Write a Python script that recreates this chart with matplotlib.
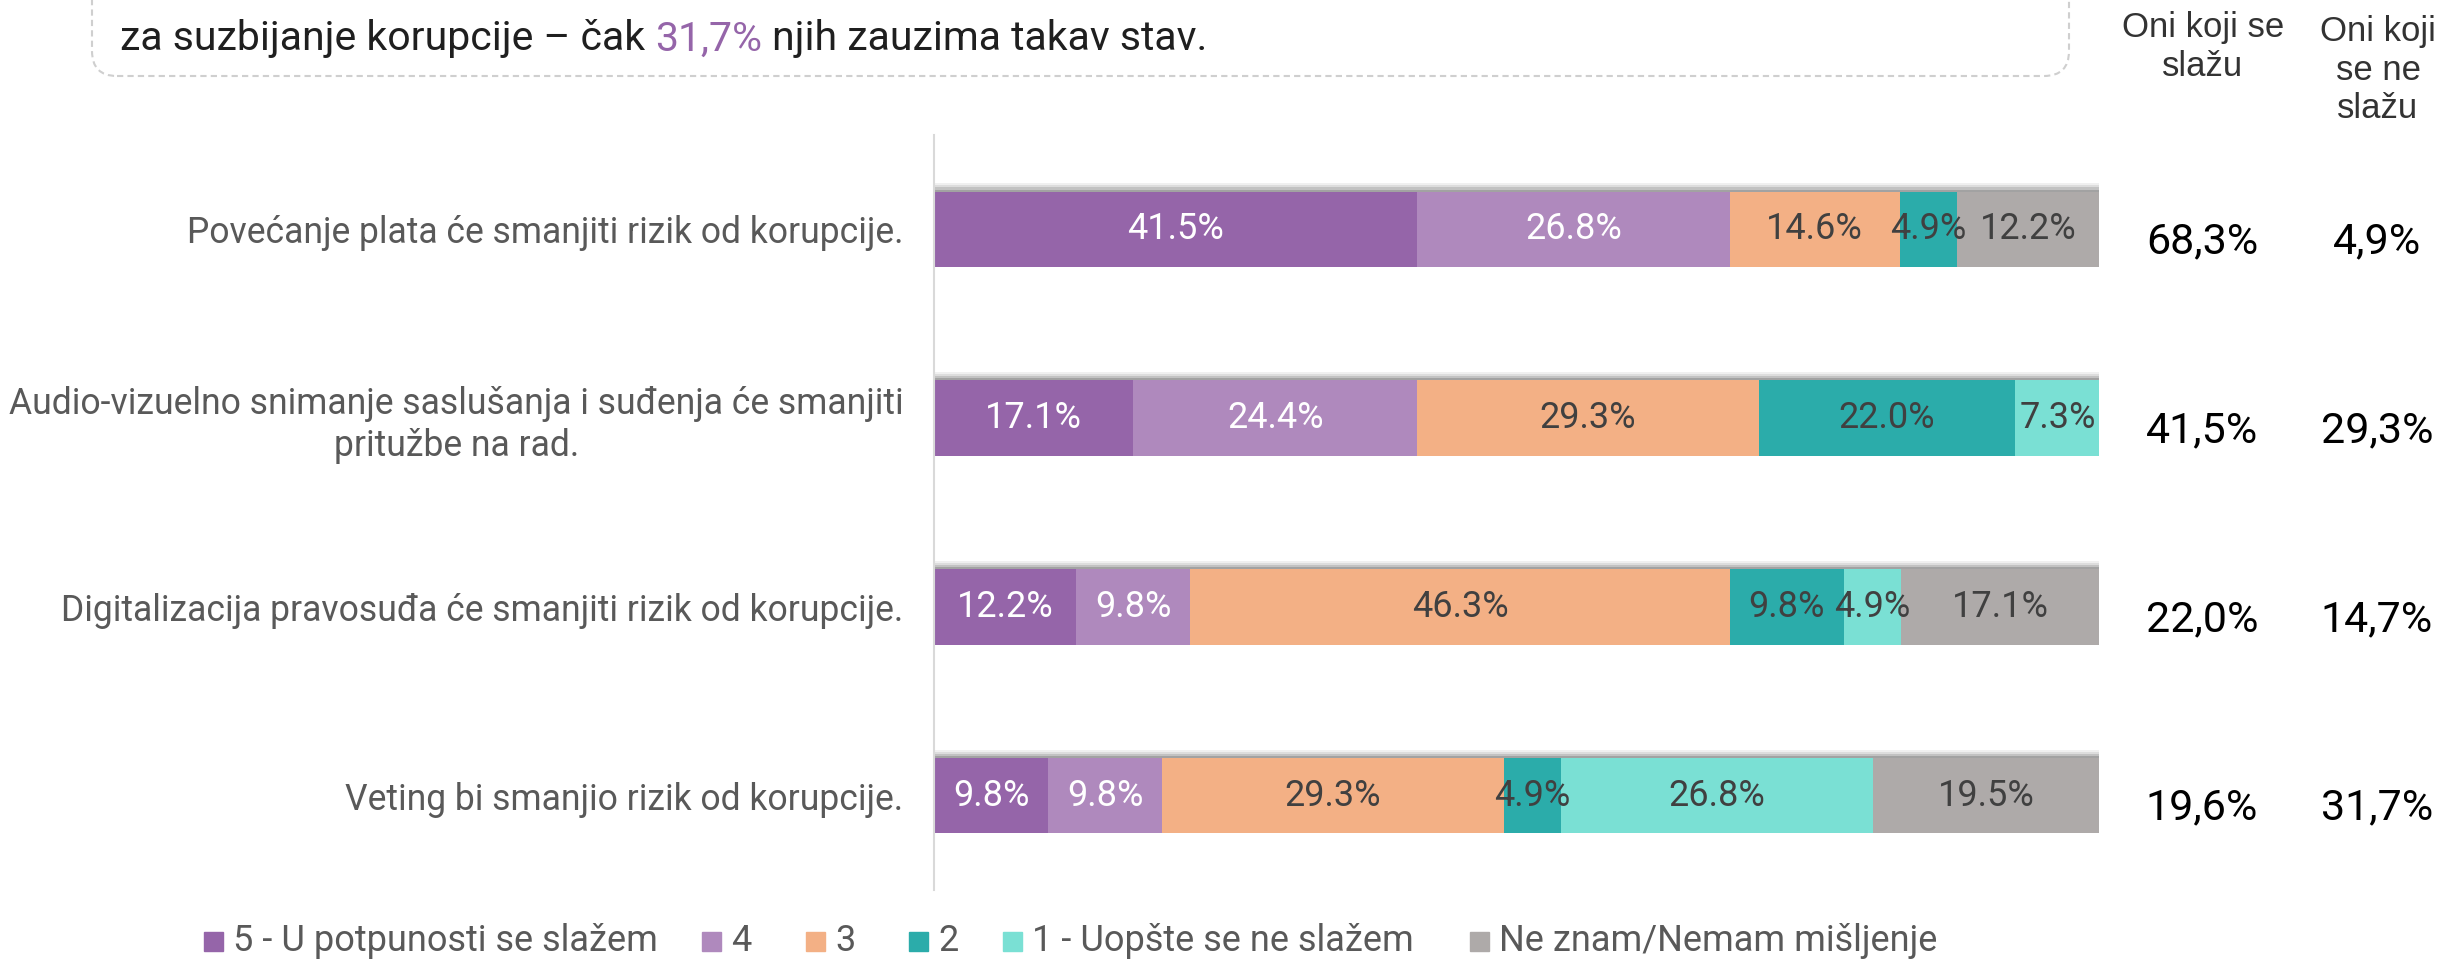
import matplotlib
matplotlib.use('Agg')
import matplotlib.pyplot as plt
import matplotlib.patheffects as pe
from matplotlib.patches import FancyBboxPatch, Rectangle
from matplotlib import transforms
import numpy as np

# statements (rows, top to bottom)
statements = [
    'Povećanje plata će smanjiti rizik od korupcije.',
    'Audio-vizuelno snimanje saslušanja i suđenja će smanjiti\npritužbe na rad.',
    'Digitalizacija pravosuđa će smanjiti rizik od korupcije.',
    'Veting bi smanjio rizik od korupcije.',
]

answer_labels = ['5 - U potpunosti se slažem', '4', '3', '2',
                 '1 - Uopšte se ne slažem', 'Ne znam/Nemam mišljenje']
colors = ['#9565A9', '#AF89BD', '#F3B085', '#2BACAA', '#7AE0D4', '#AEAAA9']

# shares per answer, in %
fully_agree = [41.5, 17.1, 12.2, 9.8]
agree = [26.8, 24.4, 9.8, 9.8]
neutral = [14.6, 29.3, 46.3, 29.3]
disagree = [4.9, 22.0, 9.8, 4.9]
fully_disagree = [0.0, 7.3, 4.9, 26.8]
dont_know = [12.2, 0.0, 17.1, 19.5]

# summary columns on the right
agree_total = [68.3, 41.5, 22.0, 19.6]
disagree_total = [4.9, 29.3, 14.7, 31.7]

W, H = 2442, 961
LABEL_FONT = 'Roboto'
HEAD_FONT = 'Liberation Sans'


def comma_pct(v):
    return f'{v:.1f}%'.replace('.', ',')


fig = plt.figure(figsize=(W / 100, H / 100), dpi=100)
ax = fig.add_axes([934 / W, 71 / H, 1165 / W, 755 / H])

series = [fully_agree, agree, neutral, disagree, fully_disagree, dont_know]
ypos = np.arange(len(statements))
left = np.zeros(len(statements))

# soft shadow above each bar
shadow = [pe.SimplePatchShadow(offset=(0, d), shadow_rgbFace='black', alpha=a)
          for d, a in ((6, 0.06), (4.5, 0.08), (3, 0.12), (1.5, 0.16))]
shadow.append(pe.Normal())

for i, (vals, col) in enumerate(zip(series, colors)):
    vals = np.array(vals)
    bars = ax.barh(ypos, vals, left=left, height=0.4, color=col, linewidth=0)
    for b in bars:
        b.set_path_effects(shadow)
    txt_col = 'white' if i < 2 else '#404040'
    for y, l, v in zip(ypos, left, vals):
        if v > 0:
            ax.text(l + v / 2, y, f'{v:.1f}%', ha='center', va='center',
                    color=txt_col, fontsize=26, family=LABEL_FONT)
    left += vals

ax.set_xlim(0, 100)
ax.set_ylim(len(statements) - 0.5, -0.5)
ax.set_xticks([])
ax.set_yticks(ypos)
ax.set_yticklabels(statements, fontsize=25.6, color='#595959', family=LABEL_FONT)
for lbl in ax.get_yticklabels():
    lbl.set_multialignment('center')
ax.tick_params(axis='y', length=0, pad=22)
for s in ['top', 'right', 'bottom']:
    ax.spines[s].set_visible(False)
ax.spines['left'].set_color('#D9D9D9')
ax.spines['left'].set_linewidth(1.5)

# right-hand summary columns (baseline a bit below the bar centre)
trans = transforms.blended_transform_factory(fig.transFigure, ax.transData)
for y, a, d in zip(ypos, agree_total, disagree_total):
    ax.text(2202 / W, y + 0.127, comma_pct(a), transform=trans, ha='center',
            va='baseline', fontsize=31, family=LABEL_FONT, color='black',
            clip_on=False)
    ax.text(2377 / W, y + 0.127, comma_pct(d), transform=trans, ha='center',
            va='baseline', fontsize=31, family=LABEL_FONT, color='black',
            clip_on=False)

fig.text(2203 / W, 1 - 47 / H, 'Oni koji se\nslažu', ha='center', va='center',
         fontsize=25, family=HEAD_FONT, color='#333333', linespacing=1.2)
fig.text(2378 / W, 1 - 70 / H, 'Oni koji\nse ne\nslažu', ha='center', va='center',
         fontsize=25, family=HEAD_FONT, color='#333333', linespacing=1.2)

# dashed comment box at the top (cut by the figure edge)
box = FancyBboxPatch((0.92, (H - 76) / 100), 19.77, 2.0,
                     boxstyle='round,pad=0,rounding_size=0.25',
                     transform=fig.dpi_scale_trans, facecolor='none',
                     edgecolor='#CFCFCF', linewidth=1.5, linestyle=(0, (3, 2)))
fig.add_artist(box)

t1 = fig.text(120 / W, 1 - 39 / H, 'za suzbijanje korupcije – čak', fontsize=29.5,
              family=LABEL_FONT, color='#1F1F1F', va='center')
t2 = ax.annotate('31,7%', xy=(1, 0), xycoords=t1, xytext=(7.3, 0),
                 textcoords='offset points', va='bottom', ha='left', fontsize=29.5,
                 family=LABEL_FONT, color=colors[0])
ax.annotate('njih zauzima takav stav.', xy=(1, 0), xycoords=t2, xytext=(7.3, 0),
            textcoords='offset points', va='bottom', ha='left', fontsize=29.5,
            family=LABEL_FONT, color='#1F1F1F')

# legend, laid out like the original
marker_x = [204, 702, 806, 909, 1003, 1470]
for x, lab, col in zip(marker_x, answer_labels, colors):
    fig.add_artist(Rectangle((x / W, 1 - (941 + 9.5) / H), 19 / W, 19 / H,
                             transform=fig.transFigure, color=col))
    fig.text((x + 29) / W, 1 - 941 / H, lab, va='center', fontsize=26,
             family=LABEL_FONT, color='#595959')

fig.savefig('out.png', dpi=100)
